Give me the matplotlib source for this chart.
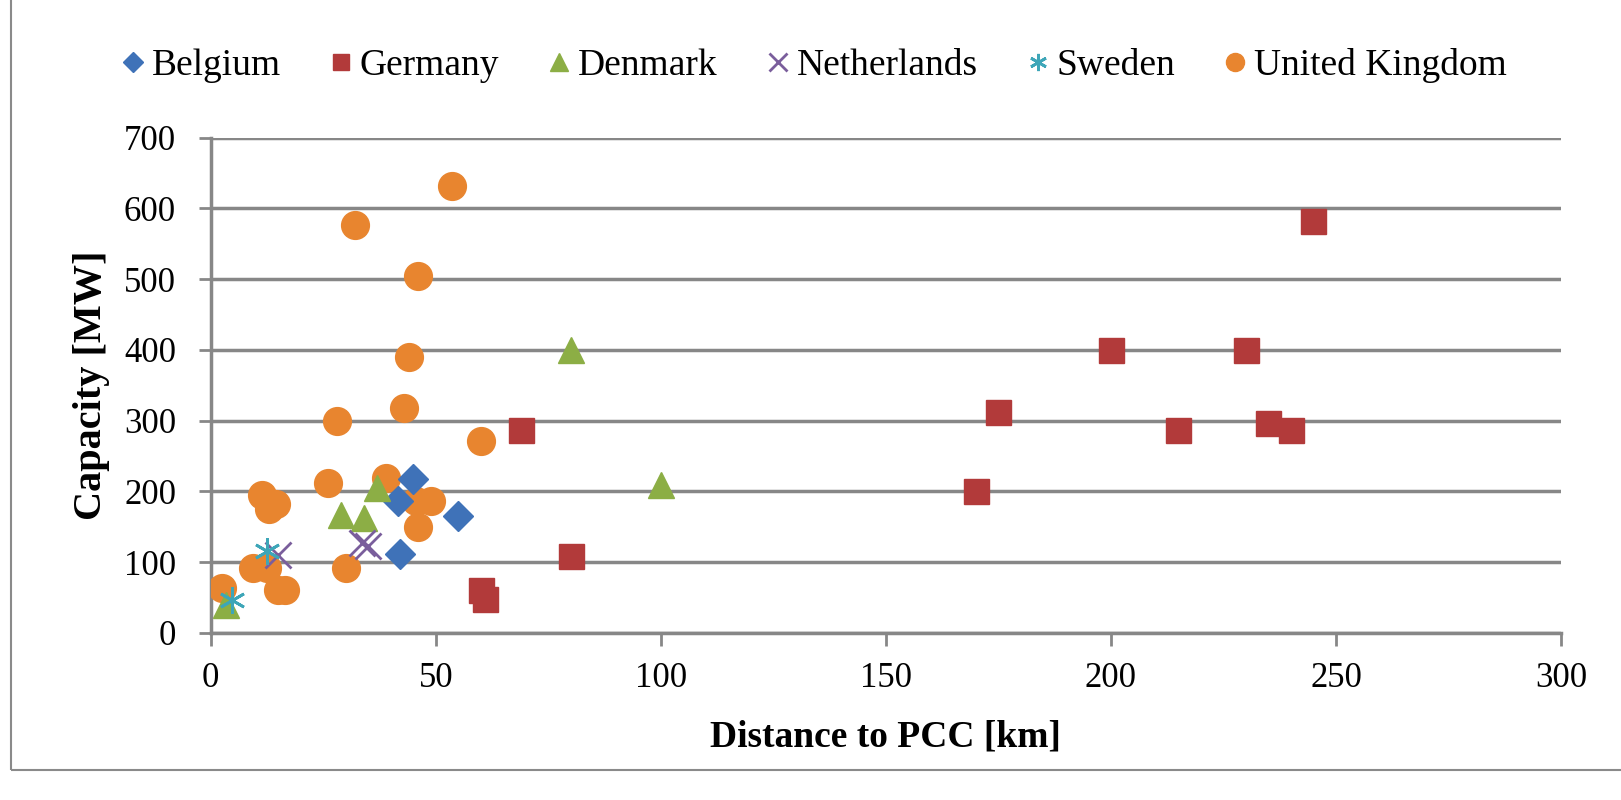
import matplotlib.pyplot as plt
from matplotlib.patches import Rectangle

plt.rcParams['font.family'] = ['Liberation Serif', 'DejaVu Serif']

# distance to PCC [km], capacity [MW]
belgium_x = [41.5, 42, 45, 55]
belgium_y = [186, 112, 217, 165]

germany_x = [60, 61, 69, 80, 170, 175, 200, 215, 230, 235, 240, 245]
germany_y = [60, 48, 287, 108, 200, 312, 400, 287, 400, 296, 287, 582]

denmark_x = [3.5, 29, 34, 37, 80, 100]
denmark_y = [40, 167, 162, 205, 400, 209]

netherlands_x = [15, 33.5, 35]
netherlands_y = [110, 127, 122]

sweden_x = [4.7, 12.5]
sweden_y = [46, 115]

uk_x = [2.5, 9.5, 12.5, 11.5, 14.5, 13, 15, 16.5, 26, 28, 30, 32, 39, 43,
        44, 45.5, 46, 46, 49, 53.5, 60]
uk_y = [63, 91, 91, 195, 182, 175, 60, 60, 212, 300, 91, 576, 219, 318,
        390, 186, 150, 504, 186, 631, 271]

fig = plt.figure(figsize=(16.21, 8), dpi=100)
ax = fig.add_axes([0.130, 0.209, 0.833, 0.619])

ms = 19
ax.plot(uk_x, uk_y, 'o', color='#E8852F', ms=ms + 1, mec='#E8852F', label='United Kingdom', zorder=3)
ax.plot(belgium_x, belgium_y, 'D', color='#3F72B8', ms=ms - 4, mec='#3F72B8', label='Belgium', zorder=4)
ax.plot(germany_x, germany_y, 's', color='#B23A3A', ms=ms - 1, mec='#B23A3A', label='Germany', zorder=4)
ax.plot(denmark_x, denmark_y, '^', color='#8CAE45', ms=ms, mec='#8CAE45', label='Denmark', zorder=4)
ax.plot(netherlands_x, netherlands_y, 'x', color='#7A5E9C', ms=ms, mew=2, label='Netherlands', zorder=5)
ax.plot(sweden_x, sweden_y, marker=(6, 2, 0), ls='none', color='#3EA6B8', ms=ms, mew=2,
        label='Sweden', zorder=5)

ax.set_xlim(0, 300)
ax.set_ylim(0, 700)
ax.set_xticks(range(0, 301, 50))
ax.set_yticks(range(0, 701, 100))
ax.grid(axis='y', color='#878787', lw=2.5)
ax.set_axisbelow(True)
for s in ['top', 'right']:
    ax.spines[s].set_visible(False)
for s in ['left', 'bottom']:
    ax.spines[s].set_color('#878787')
    ax.spines[s].set_linewidth(2.5)
ax.tick_params(axis='both', labelsize=25, color='#878787', width=2, length=9, direction='out')
ax.tick_params(axis='x', pad=12)
ax.tick_params(axis='y', pad=16)
ax.set_xlabel('Distance to PCC [km]', fontsize=27, fontweight='bold', labelpad=18)
ax.set_ylabel('Capacity [MW]', fontsize=29, fontweight='bold', labelpad=10)

handles, labels = ax.get_legend_handles_labels()
order = [1, 2, 3, 4, 5, 0]
fig.legend([handles[i] for i in order], [labels[i] for i in order], loc='center',
           bbox_to_anchor=(0.5, 0.918), ncol=6, frameon=False, fontsize=27,
           markerscale=0.65, handletextpad=0.0, columnspacing=1.1, handlelength=1.0)

fig.add_artist(Rectangle((0.007, 0.037), 1.0, 1.0, transform=fig.transFigure,
                         fill=False, edgecolor='#8a8a8a', lw=1.5))

fig.savefig('out.png', dpi=100)
